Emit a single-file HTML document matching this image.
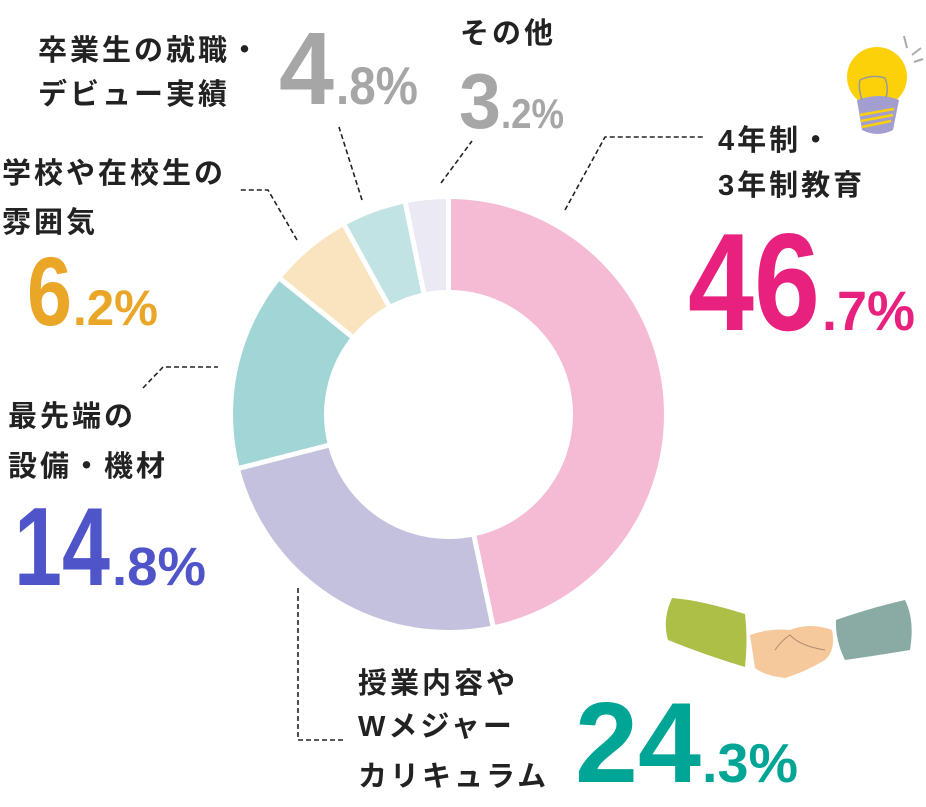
<!DOCTYPE html>
<html><head><meta charset="utf-8"><style>
html,body{margin:0;padding:0;background:#fff;}
svg{display:block}
.l{font-family:"Liberation Sans","Noto Sans CJK JP",sans-serif;font-weight:bold;font-size:29px;fill:#222;letter-spacing:3px}
.n{font-family:"Liberation Sans",sans-serif;font-weight:bold}
</style></head><body>
<svg width="926" height="807" viewBox="0 0 926 807" xmlns="http://www.w3.org/2000/svg">
<g transform="rotate(-90 448.5 414.5)" fill="none" stroke-width="91">
<circle cx="448.5" cy="414.5" r="170" stroke="#f5bbd5" stroke-dasharray="498.82 2000" stroke-dashoffset="0"/>
<circle cx="448.5" cy="414.5" r="170" stroke="#c4c1df" stroke-dasharray="259.56 2000" stroke-dashoffset="-498.82"/>
<circle cx="448.5" cy="414.5" r="170" stroke="#a2d5d6" stroke-dasharray="158.08 2000" stroke-dashoffset="-758.38"/>
<circle cx="448.5" cy="414.5" r="170" stroke="#f9e4bf" stroke-dasharray="66.22 2000" stroke-dashoffset="-916.46"/>
<circle cx="448.5" cy="414.5" r="170" stroke="#c2e3e3" stroke-dasharray="51.27 2000" stroke-dashoffset="-982.68"/>
<circle cx="448.5" cy="414.5" r="170" stroke="#ebe9f4" stroke-dasharray="34.19 2000" stroke-dashoffset="-1033.95"/>
</g>
<g stroke="#fff" stroke-width="5">
<line x1="448.5" y1="414.5" x2="448.5" y2="190"/>
<line x1="448.5" y1="414.5" x2="448.5" y2="190" transform="rotate(168.12 448.5 414.5)"/>
<line x1="448.5" y1="414.5" x2="448.5" y2="190" transform="rotate(255.6 448.5 414.5)"/>
<line x1="448.5" y1="414.5" x2="448.5" y2="190" transform="rotate(308.88 448.5 414.5)"/>
<line x1="448.5" y1="414.5" x2="448.5" y2="190" transform="rotate(331.2 448.5 414.5)"/>
<line x1="448.5" y1="414.5" x2="448.5" y2="190" transform="rotate(348.48 448.5 414.5)"/>
</g>
<!-- leaders -->
<g fill="none" stroke="#222" stroke-width="1.6" stroke-dasharray="5 3">
<polyline points="565,210 605,137 705,137"/>
<polyline points="362,200 339,127"/>
<polyline points="441,183 472,141"/>
<polyline points="297,240 268,190 240,190"/>
<polyline points="143,388 163,367 218,367"/>
<polyline points="298,588 298,740 345,740"/>
</g>
<!-- labels -->
<text class="l" x="38" y="60">卒業生の就職・</text>
<text class="l" x="38" y="104">デビュー実績</text>
<text class="l" x="460" y="43">その他</text>
<text class="l" x="718" y="150">4年制・</text>
<text class="l" x="718" y="195">3年制教育</text>
<text class="l" x="2" y="183">学校や在校生の</text>
<text class="l" x="2" y="232">雰囲気</text>
<text class="l" x="8" y="426">最先端の</text>
<text class="l" x="8" y="476">設備・機材</text>
<text class="l" x="358" y="693">授業内容や</text>
<text class="l" x="358" y="736">Wメジャー</text>
<text class="l" x="358" y="786">カリキュラム</text>
<!-- numbers -->
<g class="n">
<text x="688" y="330" font-size="139" fill="#e8217f" textLength="132" lengthAdjust="spacingAndGlyphs">46</text>
<text x="822" y="330" font-size="56" fill="#e8217f" textLength="93" lengthAdjust="spacingAndGlyphs">.7%</text>
<text x="14" y="585" font-size="111" fill="#4f55c9" textLength="96" lengthAdjust="spacingAndGlyphs">14</text>
<text x="112" y="585" font-size="54" fill="#4f55c9" textLength="94" lengthAdjust="spacingAndGlyphs">.8%</text>
<text x="575" y="782" font-size="114" fill="#00a595" textLength="126" lengthAdjust="spacingAndGlyphs">24</text>
<text x="702" y="782" font-size="55" fill="#00a595" textLength="96" lengthAdjust="spacingAndGlyphs">.3%</text>
<text x="27" y="325" font-size="97" fill="#e9a627" textLength="45" lengthAdjust="spacingAndGlyphs">6</text>
<text x="73" y="325" font-size="50" fill="#e9a627" textLength="85" lengthAdjust="spacingAndGlyphs">.2%</text>
<text x="279" y="104" font-size="103" fill="#a6a6a6" textLength="55" lengthAdjust="spacingAndGlyphs">4</text>
<text x="336" y="104" font-size="53" fill="#a6a6a6" textLength="82" lengthAdjust="spacingAndGlyphs">.8%</text>
<text x="459" y="128" font-size="78" fill="#a6a6a6" textLength="42" lengthAdjust="spacingAndGlyphs">3</text>
<text x="501" y="128" font-size="42" fill="#a6a6a6" textLength="63" lengthAdjust="spacingAndGlyphs">.2%</text>
</g>
<!-- bulb -->
<g>
<line x1="904" y1="36" x2="907" y2="48" stroke="#aaa" stroke-width="2"/>
<line x1="912" y1="55" x2="921" y2="48" stroke="#aaa" stroke-width="2"/>
<line x1="914" y1="62" x2="923" y2="59" stroke="#aaa" stroke-width="2"/>
<circle cx="877" cy="77" r="30" fill="#fdd10a"/>
<path d="M857 100 Q880 92 899 100 L893 130 Q878 138 862 130 Z" fill="#a39ed0"/>
<g stroke="#fdd10a" stroke-width="2.5"><line x1="860" y1="115" x2="894" y2="109"/><line x1="861" y1="121" x2="893" y2="115"/><line x1="862" y1="127" x2="891" y2="121"/></g>
<path d="M862 100 Q858 88 860 80 Q872 74 885 78 Q889 88 886 98" fill="none" stroke="#999" stroke-width="1.5"/>
</g>
<!-- handshake -->
<g>
<path d="M672 598 Q700 600 745 614 Q748 640 745 667 Q705 655 668 640 Q662 620 672 598 Z" fill="#adbf47"/>
<path d="M836 620 Q870 608 905 600 Q915 620 910 650 Q880 655 845 660 Q835 640 836 620 Z" fill="#8aaba3"/>
<path d="M750 635 Q770 628 790 630 Q810 622 832 630 Q836 650 825 660 Q805 672 785 678 Q765 676 755 668 Z" fill="#f5c99b"/>
<path d="M775 650 Q782 640 790 635 Q800 646 825 650" fill="none" stroke="#b08b6e" stroke-width="1"/>
</g>
</svg>
</body></html>
